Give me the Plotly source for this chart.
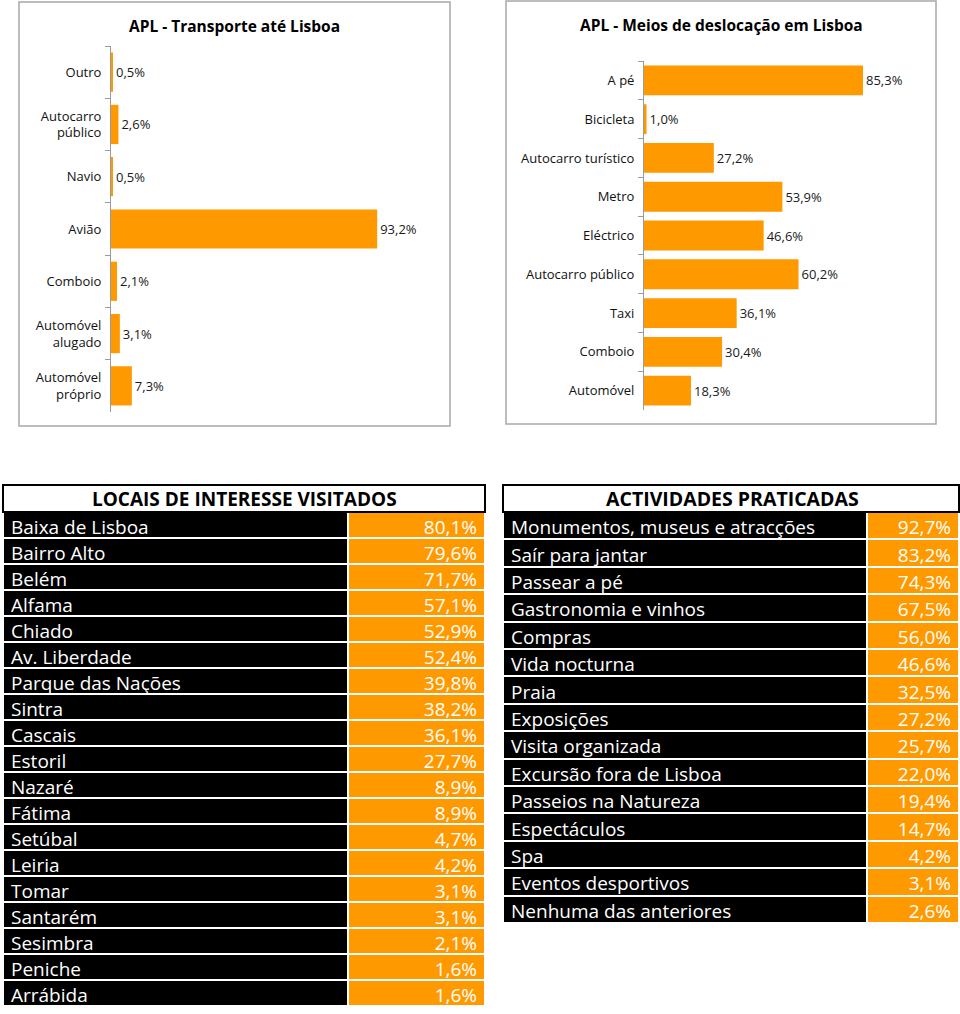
import plotly.graph_objects as go

W, H = 960, 1014

# ---------- data ----------
transporte_cats = ["Outro", "Autocarro<br>público", "Navio", "Avião", "Comboio",
                   "Automóvel<br>alugado", "Automóvel<br>próprio"]
transporte_vals = [0.5, 2.6, 0.5, 93.2, 2.1, 3.1, 7.3]

meios_cats = ["A pé", "Bicicleta", "Autocarro turístico", "Metro", "Eléctrico",
              "Autocarro público", "Taxi", "Comboio", "Automóvel"]
meios_vals = [85.3, 1.0, 27.2, 53.9, 46.6, 60.2, 36.1, 30.4, 18.3]

locais_cats = ["Baixa de Lisboa", "Bairro Alto", "Belém", "Alfama", "Chiado",
               "Av. Liberdade", "Parque das Nações", "Sintra", "Cascais", "Estoril",
               "Nazaré", "Fátima", "Setúbal", "Leiria", "Tomar", "Santarém",
               "Sesimbra", "Peniche", "Arrábida"]
locais_vals = [80.1, 79.6, 71.7, 57.1, 52.9, 52.4, 39.8, 38.2, 36.1, 27.7,
               8.9, 8.9, 4.7, 4.2, 3.1, 3.1, 2.1, 1.6, 1.6]

activ_cats = ["Monumentos, museus e atracções", "Saír para jantar", "Passear a pé",
              "Gastronomia e vinhos", "Compras", "Vida nocturna", "Praia",
              "Exposições", "Visita organizada", "Excursão fora de Lisboa",
              "Passeios na Natureza", "Espectáculos", "Spa", "Eventos desportivos",
              "Nenhuma das anteriores"]
activ_vals = [92.7, 83.2, 74.3, 67.5, 56.0, 46.6, 32.5, 27.2, 25.7, 22.0,
              19.4, 14.7, 4.2, 3.1, 2.6]

title_left = "APL - Transporte até Lisboa"
title_right = "APL - Meios de deslocação em Lisboa"
header_left = "LOCAIS DE INTERESSE VISITADOS"
header_right = "ACTIVIDADES PRATICADAS"

ORANGE = "#FF9900"
FONT = "Open Sans"


def fmt(v):
    return f"{v:.1f}%".replace(".", ",")


def px(x):
    return x / W


def py(y):
    return 1 - y / H


fig = go.Figure()

# ---------- top left bar chart ----------
fig.add_trace(go.Bar(
    y=transporte_cats, x=transporte_vals, orientation="h",
    marker=dict(color=ORANGE, line=dict(width=0)), width=0.75,
    text=[fmt(v) for v in transporte_vals], textposition="outside",
    textfont=dict(family=FONT, size=13, color="#1a1a1a"), cliponaxis=False,
    xaxis="x", yaxis="y", showlegend=False, hoverinfo="skip"))

# ---------- top right bar chart ----------
fig.add_trace(go.Bar(
    y=meios_cats, x=meios_vals, orientation="h",
    marker=dict(color=ORANGE, line=dict(width=0)), width=0.77,
    text=[fmt(v) for v in meios_vals], textposition="outside",
    textfont=dict(family=FONT, size=13, color="#1a1a1a"), cliponaxis=False,
    xaxis="x2", yaxis="y2", showlegend=False, hoverinfo="skip"))

# ---------- tables ----------
fig.add_trace(go.Table(
    domain=dict(x=[px(3), px(485)], y=[py(1008), py(512)]),
    columnwidth=[344, 136],
    header=dict(values=["", ""], height=0, line=dict(width=0), fill=dict(color="white")),
    cells=dict(
        values=[locais_cats, [fmt(v) for v in locais_vals]],
        fill=dict(color=["black", ORANGE]),
        line=dict(color="white", width=2),
        align=["left", "right"],
        font=dict(family=FONT, size=19, color="white"),
        height=26),
))

fig.add_trace(go.Table(
    domain=dict(x=[px(503), px(959)], y=[py(924), py(512)]),
    columnwidth=[363, 92],
    header=dict(values=["", ""], height=0, line=dict(width=0), fill=dict(color="white")),
    cells=dict(
        values=[activ_cats, [fmt(v) for v in activ_vals]],
        fill=dict(color=["black", ORANGE]),
        line=dict(color="white", width=2),
        align=["left", "right"],
        font=dict(family=FONT, size=19, color="white"),
        height=27.4),
))

axis_common = dict(showgrid=False, zeroline=False)

fig.update_layout(
    width=W, height=H, margin=dict(l=0, r=0, t=0, b=0),
    paper_bgcolor="white", plot_bgcolor="white",
    font=dict(family=FONT, color="#111"),
    xaxis=dict(domain=[px(111), px(440)], range=[0, 115.2], visible=False, **axis_common),
    yaxis=dict(domain=[py(412), py(46)], anchor="x", autorange="reversed",
               showline=True, linecolor="#9a9a9a", linewidth=1,
               ticks="outside", tickson="boundaries", ticklen=5, tickcolor="#9a9a9a",
               ticklabelstandoff=6,
               tickfont=dict(family=FONT, size=13, color="#111"), **axis_common),
    xaxis2=dict(domain=[px(644), px(930)], range=[0, 111.4], visible=False,
                anchor="y2", **axis_common),
    yaxis2=dict(domain=[py(410), py(61)], anchor="x2", autorange="reversed",
                showline=True, linecolor="#9a9a9a", linewidth=1,
                ticks="outside", tickson="boundaries", ticklen=5, tickcolor="#9a9a9a",
                ticklabelstandoff=6,
                tickfont=dict(family=FONT, size=13, color="#111"), **axis_common),
    shapes=[
        dict(type="rect", xref="paper", yref="paper", x0=px(19), x1=px(450),
             y0=py(426), y1=py(2), line=dict(color="#a8a8a8", width=1.5)),
        dict(type="rect", xref="paper", yref="paper", x0=px(506), x1=px(936),
             y0=py(424), y1=py(1), line=dict(color="#a8a8a8", width=1.5)),
        dict(type="rect", xref="paper", yref="paper", x0=px(3), x1=px(485),
             y0=py(512), y1=py(485), line=dict(color="black", width=2)),
        dict(type="rect", xref="paper", yref="paper", x0=px(503), x1=px(959),
             y0=py(512), y1=py(485), line=dict(color="black", width=2)),
    ],
    annotations=[
        dict(text=f"<b>{title_left}</b>", xref="paper", yref="paper", x=px(234), y=py(26),
             xanchor="center", yanchor="middle",
             showarrow=False, font=dict(family=FONT, size=15.5, color="black")),
        dict(text=f"<b>{title_right}</b>", xref="paper", yref="paper", x=px(721), y=py(25),
             xanchor="center", yanchor="middle",
             showarrow=False, font=dict(family=FONT, size=15.5, color="black")),
        dict(text=f"<b>{header_left}</b>", xref="paper", yref="paper", x=px(244), y=py(498.5),
             xanchor="center", yanchor="middle",
             showarrow=False, font=dict(family=FONT, size=19, color="black")),
        dict(text=f"<b>{header_right}</b>", xref="paper", yref="paper", x=px(732), y=py(498.5),
             xanchor="center", yanchor="middle",
             showarrow=False, font=dict(family=FONT, size=19.5, color="black")),
    ],
)

fig.write_html("out.html", config={"displayModeBar": False},
               post_script="document.body.style.margin='0px';")
